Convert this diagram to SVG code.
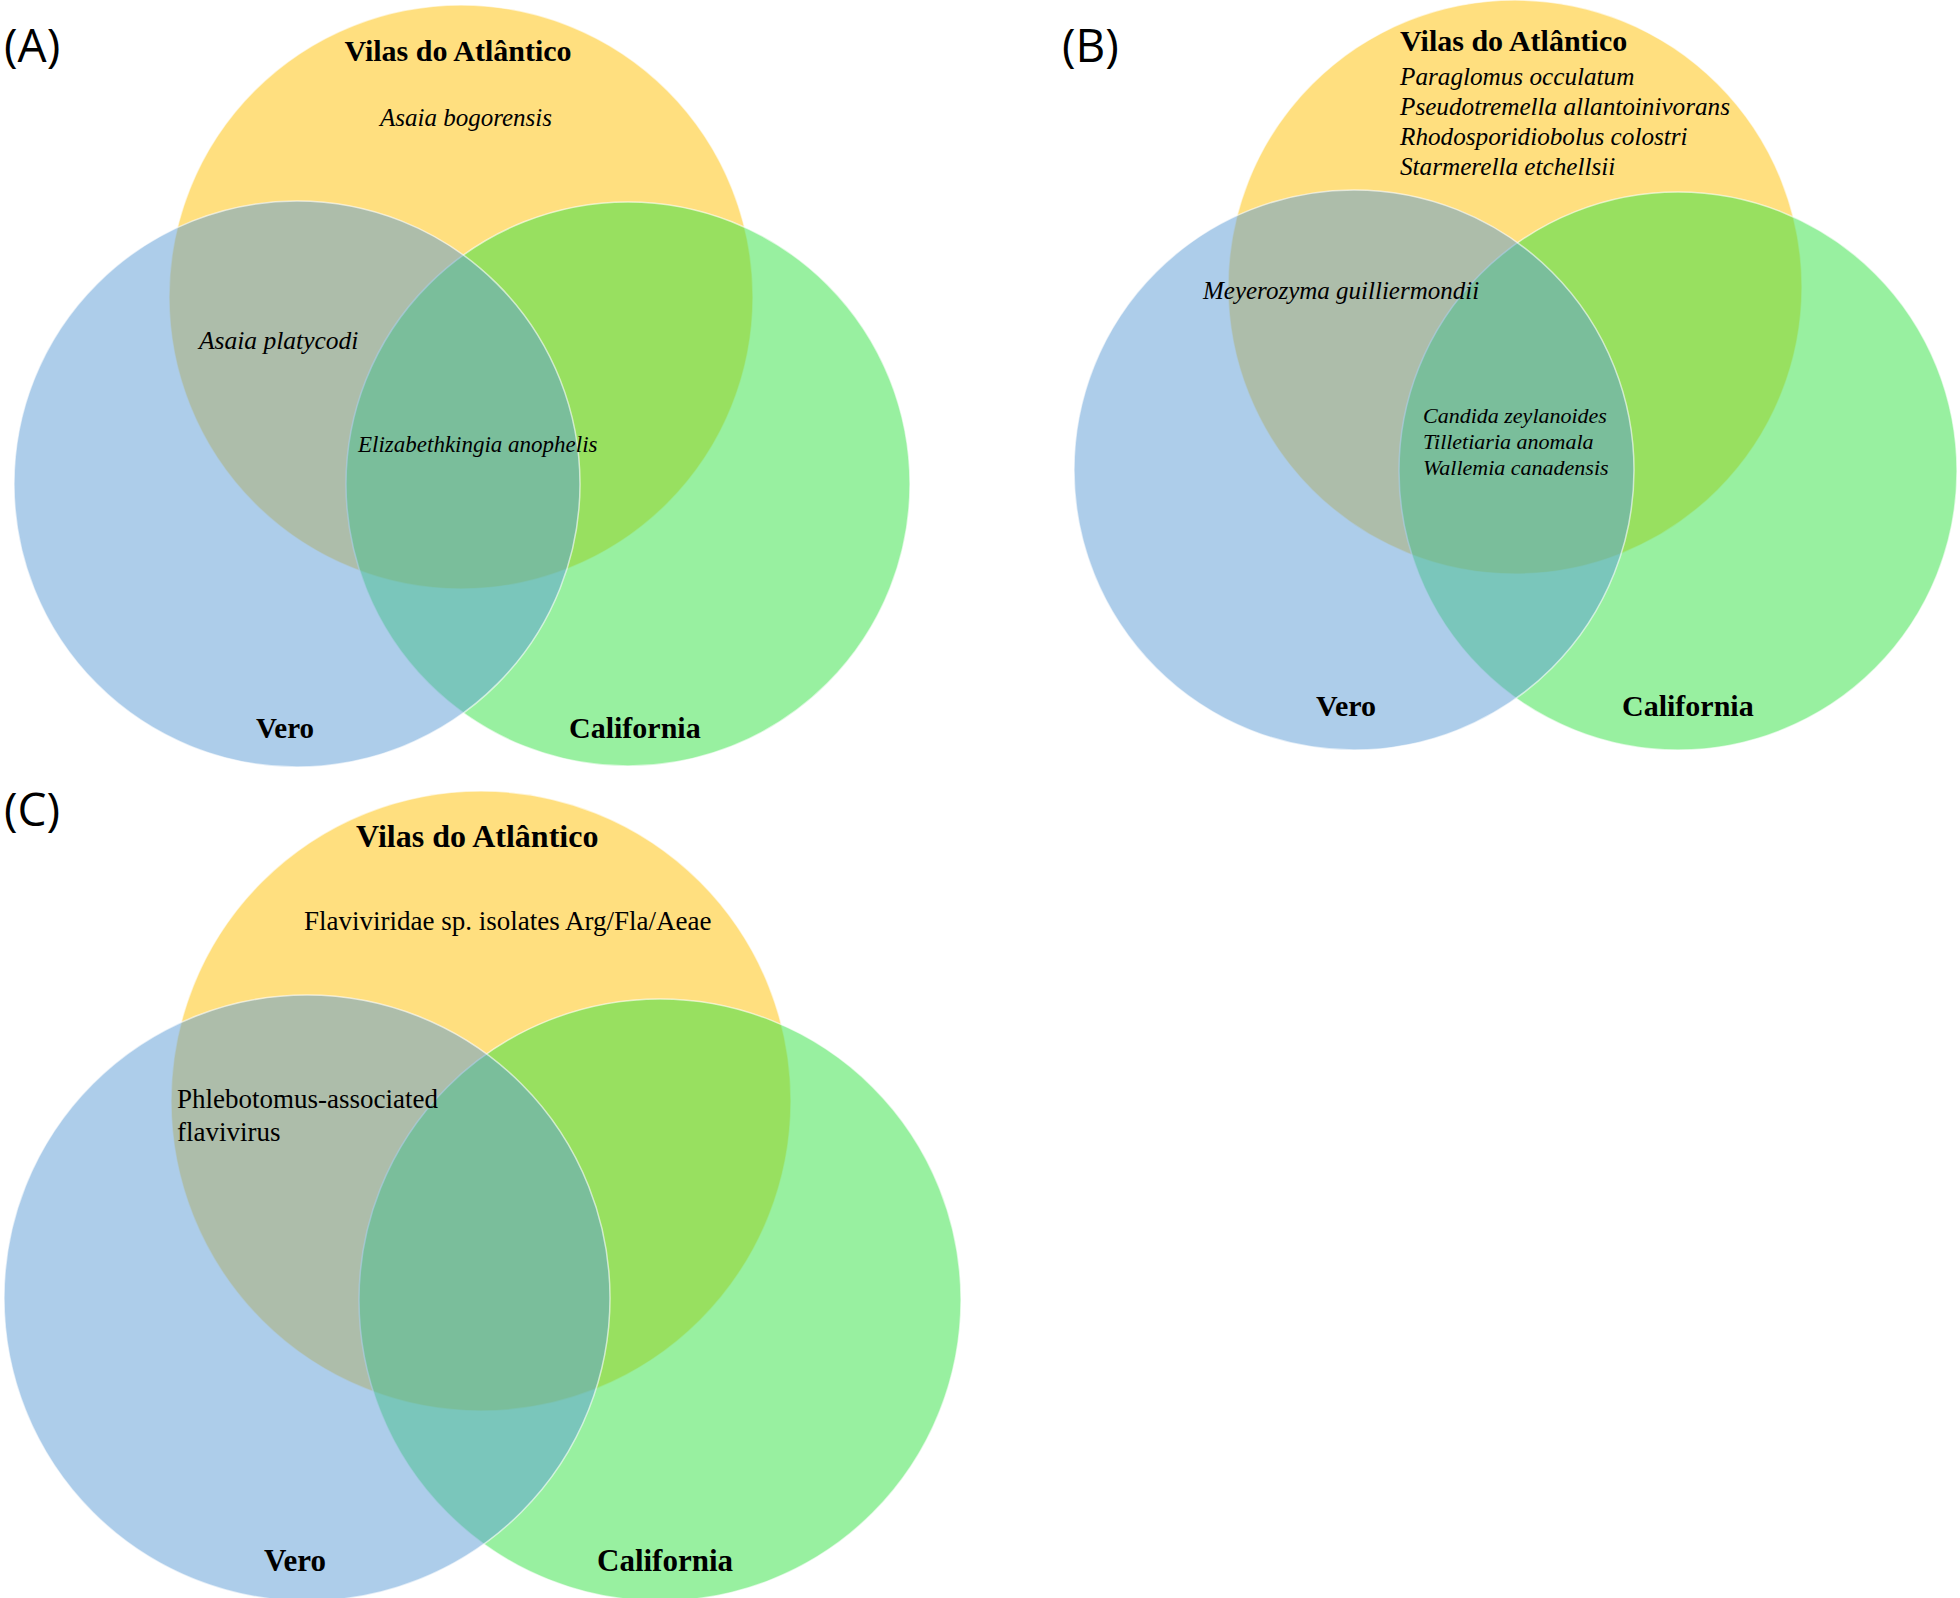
<svg xmlns="http://www.w3.org/2000/svg" width="1960" height="1598" viewBox="0 0 1960 1598">
<style>
.y{fill:#FFC000;fill-opacity:0.5;stroke:#ffffff;stroke-opacity:0.6;stroke-width:1.5}
.g{fill:#31E141;fill-opacity:0.5;stroke:#ffffff;stroke-opacity:0.6;stroke-width:1.5}
.b{fill:#5B9BD5;fill-opacity:0.5;stroke:#ffffff;stroke-opacity:0.6;stroke-width:1.5}
.pl{font-family:"Open Sans","Liberation Sans",sans-serif;font-size:46px;fill:#000}
.hd{font-family:"Liberation Serif","Times New Roman",serif;font-weight:bold;fill:#000}
.it{font-family:"Liberation Serif","Times New Roman",serif;font-style:italic;fill:#000}
.rg{font-family:"Liberation Serif","Times New Roman",serif;fill:#000}
</style>
<rect width="1960" height="1598" fill="#ffffff"/>
<g id="panelA">
  <text class="pl" x="4" y="62">(A)</text>
  <g id="A-vilas"><circle class="y" cx="461" cy="297" r="292"/></g>
  <g id="A-california"><circle class="g" cx="628" cy="484" r="282"/></g>
  <g id="A-vero"><circle class="b" cx="297" cy="484" r="283"/></g>
  <text class="hd" x="458" y="61" font-size="30" text-anchor="middle">Vilas do Atlântico</text>
  <text class="it" x="380" y="126" font-size="25">Asaia bogorensis</text>
  <text class="it" x="199" y="349" font-size="25.5">Asaia platycodi</text>
  <text class="it" x="358" y="452" font-size="23">Elizabethkingia anophelis</text>
  <text class="hd" x="256" y="738" font-size="29">Vero</text>
  <text class="hd" x="569" y="738" font-size="30">California</text>
</g>
<g id="panelB">
  <text class="pl" x="1062" y="62">(B)</text>
  <g id="B-vilas"><circle class="y" cx="1515" cy="287" r="287"/></g>
  <g id="B-california"><circle class="g" cx="1678" cy="471" r="279"/></g>
  <g id="B-vero"><circle class="b" cx="1354" cy="470" r="280"/></g>
  <text class="hd" x="1400" y="51" font-size="30">Vilas do Atlântico</text>
  <text class="it" font-size="25.2">
    <tspan x="1400" y="85">Paraglomus occulatum</tspan>
    <tspan x="1400" y="115">Pseudotremella allantoinivorans</tspan>
    <tspan x="1400" y="145">Rhodosporidiobolus colostri</tspan>
    <tspan x="1400" y="175">Starmerella etchellsii</tspan>
  </text>
  <text class="it" x="1203" y="299" font-size="25">Meyerozyma guilliermondii</text>
  <text class="it" font-size="22">
    <tspan x="1423" y="423">Candida zeylanoides</tspan>
    <tspan x="1423" y="449">Tilletiaria anomala</tspan>
    <tspan x="1423" y="475">Wallemia canadensis</tspan>
  </text>
  <text class="hd" x="1316" y="716" font-size="30">Vero</text>
  <text class="hd" x="1622" y="716" font-size="30">California</text>
</g>
<g id="panelC">
  <text class="pl" x="4" y="826">(C)</text>
  <g id="C-vilas"><circle class="y" cx="481" cy="1101" r="310"/></g>
  <g id="C-california"><circle class="g" cx="660" cy="1300" r="301"/></g>
  <g id="C-vero"><circle class="b" cx="307" cy="1298" r="303"/></g>
  <text class="hd" x="356" y="847" font-size="32">Vilas do Atlântico</text>
  <text class="rg" x="304" y="930" font-size="27">Flaviviridae sp. isolates Arg/Fla/Aeae</text>
  <text class="rg" font-size="27">
    <tspan x="177" y="1108">Phlebotomus-associated</tspan>
    <tspan x="177" y="1141">flavivirus</tspan>
  </text>
  <text class="hd" x="264" y="1571" font-size="31">Vero</text>
  <text class="hd" x="597" y="1571" font-size="31">California</text>
</g>
</svg>
